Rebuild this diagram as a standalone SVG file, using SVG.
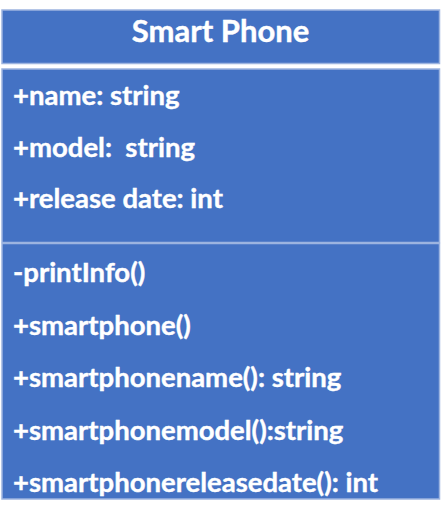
<svg xmlns="http://www.w3.org/2000/svg" width="445" height="519" viewBox="0 0 445 519">
<style>
.box{fill:#4472C4;stroke:#9DB4E0;stroke-width:1.5}
.t{fill:#ffffff;stroke:#ffffff;stroke-width:0.4;font-family:Lato,"Open Sans","Liberation Sans",sans-serif;font-weight:bold;font-size:27.5px;white-space:pre}
.title{fill:#ffffff;stroke:#ffffff;stroke-width:0.4;font-family:Lato,"Open Sans","Liberation Sans",sans-serif;font-weight:bold;font-size:31px;text-anchor:middle}
</style>
<rect width="445" height="519" fill="#ffffff"/>
<g id="header">
<rect class="box" x="2" y="10" width="437.5" height="53.5"/>
<text class="title" x="220.5" y="41.7">Smart Phone</text>
</g>
<g id="attributes">
<rect class="box" x="2" y="69" width="437.5" height="173.5"/>
<text class="t" x="13" y="105">+name: string</text>
<text class="t" x="13" y="156.7" xml:space="preserve">+model:  string</text>
<text class="t" x="13" y="208.3">+release date: int</text>
</g>
<g id="methods">
<rect class="box" x="2" y="243.5" width="437.5" height="255.5"/>
<text class="t" x="13" y="282">-printInfo()</text>
<text class="t" x="13" y="334.5">+smartphone()</text>
<text class="t" x="13" y="387">+smartphonename(): string</text>
<text class="t" x="13" y="439.5">+smartphonemodel():string</text>
<text class="t" x="13" y="492">+smartphonereleasedate(): int</text>
</g>
<g id="connectors"></g>
</svg>
